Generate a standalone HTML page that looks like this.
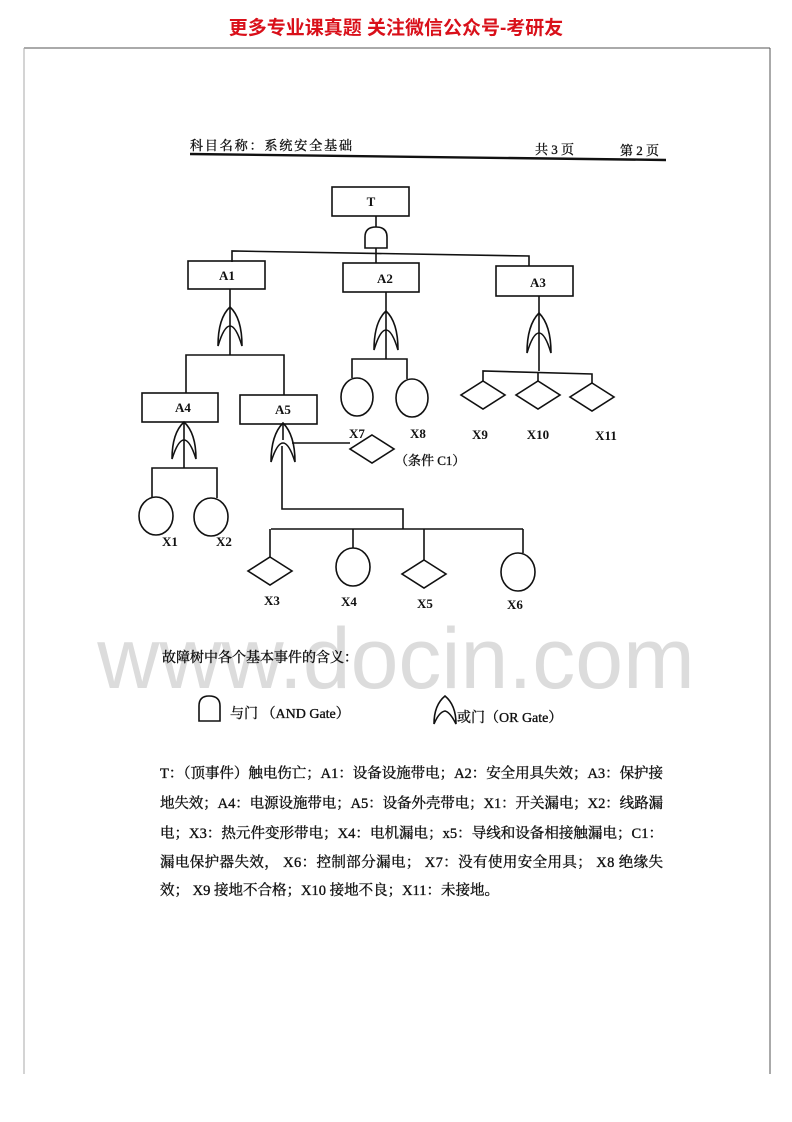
<!DOCTYPE html>
<html><head><meta charset="utf-8"><style>
html,body{margin:0;padding:0;background:#fff;}
svg{display:block;}
text{font-family:"Liberation Serif","Noto Serif CJK SC","Noto Sans CJK SC",serif;fill:#111;}
.b{stroke:#111;stroke-width:0.35;}
</style></head><body>
<svg width="792" height="1122" viewBox="0 0 792 1122" xmlns="http://www.w3.org/2000/svg">
<rect width="792" height="1122" fill="#fff"/>
<text x="396" y="34" text-anchor="middle" font-size="19" font-weight="bold" style="fill:#d9101a;font-family:'Liberation Sans','Noto Sans CJK SC',sans-serif">更多专业课真题 关注微信公众号-考研友</text>
<g fill="none">
<line x1="24" y1="48" x2="770" y2="48" stroke-width="1.3" stroke="#777"/>
<line x1="24" y1="48" x2="24" y2="1074" stroke-width="1" stroke="#aaa"/>
<line x1="770" y1="48" x2="770" y2="1074" stroke-width="1" stroke="#555"/>
</g>
<text x="396" y="688" text-anchor="middle" font-size="86" style="fill:#dcdcdc;font-family:'Liberation Sans',sans-serif">www.docin.com</text>
<text class="b" x="190" y="150" font-size="13" textLength="162">科目名称：系统安全基础</text>
<text class="b" x="535" y="154" font-size="13">共 3 页</text>
<text class="b" x="620" y="155" font-size="13">第 2 页</text>
<line x1="190" y1="154" x2="666" y2="160" stroke="#111" stroke-width="2.4"/>

<g stroke="#111" stroke-width="1.6" fill="none">
<rect x="332" y="187" width="77" height="29"/>
<line x1="376" y1="216" x2="376" y2="227"/>
<path d="M365,248 V237 Q365,227 376,227 Q387,227 387,237 V248 Z"/>
<line x1="376" y1="248" x2="376" y2="263"/>
<polyline points="232,262 232,251 529,256 529,266"/>
<rect x="188" y="261" width="77" height="28"/>
<rect x="343" y="263" width="76" height="29"/>
<rect x="496" y="266" width="77" height="30"/>
<line x1="230" y1="289" x2="230" y2="355"/>
<line x1="386" y1="292" x2="386" y2="359"/>
<line x1="539" y1="296" x2="539" y2="371"/>
<path d="M218,346 Q218,318 230,307 Q242,318 242,346 Q236,326 230,326 Q224,326 218,346 Z"/>
<path d="M374,350 Q374,322 386,311 Q398,322 398,350 Q392,330 386,330 Q380,330 374,350 Z"/>
<path d="M527,353 Q527,325 539,313 Q551,325 551,353 Q545,333 539,333 Q533,333 527,353 Z"/>
<path d="M172,459 Q172,433 184,422 Q196,433 196,459 Q190,440 184,440 Q178,440 172,459 Z"/>
<path d="M271,462 Q271,435 283,423 Q295,435 295,462 Q289,443 283,443 Q277,443 271,462 Z"/>
<polyline points="186,393 186,355 284,355 284,395"/>
<rect x="142" y="393" width="76" height="29"/>
<rect x="240" y="395" width="77" height="29"/>
<polyline points="352,378 352,359 407,359 407,379"/>
<ellipse cx="357" cy="397" rx="16" ry="19"/>
<ellipse cx="412" cy="398" rx="16" ry="19"/>
<polyline points="483,381 483,371 592,374 592,383"/>
<line x1="538" y1="372" x2="538" y2="381"/>
<path d="M483,381 L505,395 L483,409 L461,395 Z"/>
<path d="M538,381 L560,395 L538,409 L516,395 Z"/>
<path d="M592,383 L614,397 L592,411 L570,397 Z"/>
<line x1="184" y1="422" x2="184" y2="468"/>
<polyline points="152,497 152,468 217,468 217,498"/>
<ellipse cx="156" cy="516" rx="17" ry="19"/>
<ellipse cx="211" cy="517" rx="17" ry="19"/>
<line x1="283" y1="424" x2="283" y2="440"/>
<line x1="292" y1="443" x2="350" y2="443"/>
<path d="M372,435 L394,449 L372,463 L350,449 Z"/>
<polyline points="282,446 282,509 403,509 403,529"/>
<line x1="271" y1="529" x2="523" y2="529"/>
<line x1="270" y1="529" x2="270" y2="557"/>
<path d="M270,557 L292,571 L270,585 L248,571 Z"/>
<line x1="353" y1="529" x2="353" y2="548"/>
<ellipse cx="353" cy="567" rx="17" ry="19"/>
<line x1="424" y1="529" x2="424" y2="560"/>
<path d="M424,560 L446,574 L424,588 L402,574 Z"/>
<line x1="523" y1="529" x2="523" y2="553"/>
<ellipse cx="518" cy="572" rx="17" ry="19"/>
</g>
<g font-size="13" text-anchor="middle" font-weight="bold">
<text x="371" y="206">T</text>
<text x="227" y="280">A1</text>
<text x="385" y="283">A2</text>
<text x="538" y="287">A3</text>
<text x="183" y="412">A4</text>
<text x="283" y="414">A5</text>
<text x="357" y="438">X7</text>
<text x="418" y="438">X8</text>
<text x="480" y="439">X9</text>
<text x="538" y="439">X10</text>
<text x="606" y="440">X11</text>
<text x="170" y="546">X1</text>
<text x="224" y="546">X2</text>
<text x="272" y="605">X3</text>
<text x="349" y="606">X4</text>
<text x="425" y="608">X5</text>
<text x="515" y="609">X6</text>
</g>
<text class="b" x="395" y="465" font-size="13">（条件 C1）</text>
<text class="b" x="162" y="662" font-size="14">故障树中各个基本事件的含义：</text>
<path d="M199,721 V706 Q199,696 209,696 Q220,696 220,706 V721 Z" stroke="#111" stroke-width="1.6" fill="none"/>
<text class="b" x="230" y="718" font-size="14">与门 （AND Gate）</text>
<path d="M434,724 Q434,705 445,696 Q456,705 456,724 Q450,712 445,711 Q439,712 434,724 Z" stroke="#111" stroke-width="1.6" fill="none"/>
<text class="b" x="457" y="722" font-size="14">或门（OR Gate）</text>
<g font-size="14.5" class="b">
<text x="160" y="778" textLength="503" lengthAdjust="spacing">T：（顶事件）触电伤亡；A1：设备设施带电；A2：安全用具失效；A3：保护接</text>
<text x="160" y="808" textLength="503" lengthAdjust="spacing">地失效；A4：电源设施带电；A5：设备外壳带电；X1：开关漏电；X2：线路漏</text>
<text x="160" y="838" textLength="503" lengthAdjust="spacing">电；X3：热元件变形带电；X4：电机漏电；x5：导线和设备相接触漏电；C1：</text>
<text x="160" y="867" textLength="503" lengthAdjust="spacing">漏电保护器失效， X6：控制部分漏电； X7：没有使用安全用具； X8 绝缘失</text>
<text x="160" y="895">效； X9 接地不合格；X10 接地不良；X11：未接地。</text>
</g>
</svg>
</body></html>
